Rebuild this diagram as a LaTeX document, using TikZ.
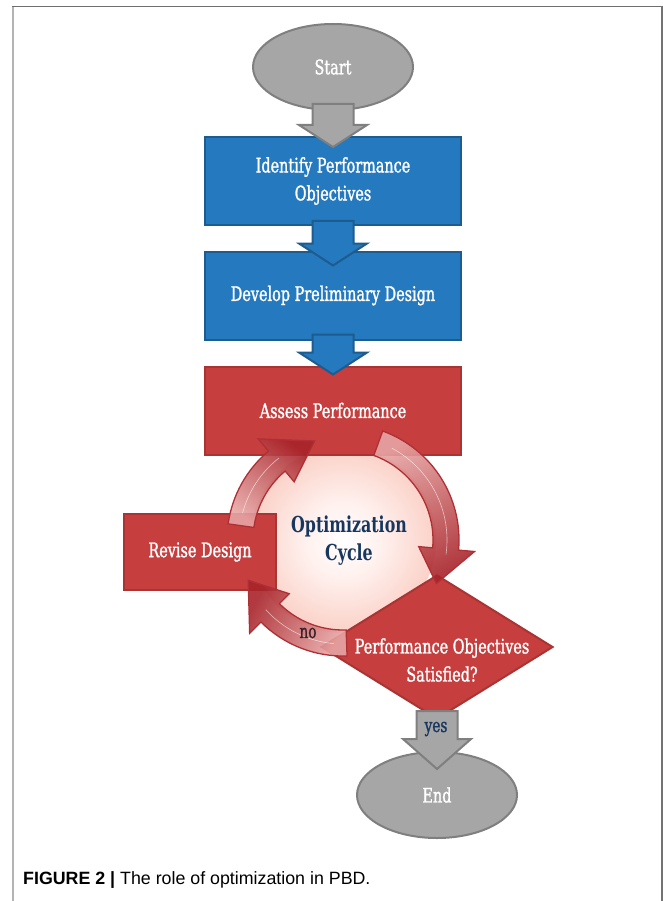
\documentclass[tikz,border=0pt]{standalone}
\usepackage{fontspec}
\usetikzlibrary{shapes.geometric,calc}
\newfontfamily\boxfont[FakeStretch=0.72,FakeBold=1.3]{DejaVu Serif}
\newfontfamily\cyclefont[FakeStretch=0.72]{DejaVu Serif}
\newfontfamily\capfont{Liberation Sans}

\definecolor{boxblue}{HTML}{2579BE}
\definecolor{blueedge}{HTML}{1D5C8E}
\definecolor{boxred}{HTML}{C73E3E}
\definecolor{rededge}{HTML}{A93434}
\definecolor{grayfill}{HTML}{A6A6A6}
\definecolor{grayedge}{HTML}{7F7F7F}
\definecolor{ringdark}{HTML}{A8242A}
\definecolor{ringlight}{HTML}{E7A5A4}
\definecolor{ringedge}{HTML}{AE3035}
\definecolor{glowpale}{HTML}{FFF1EE}
\definecolor{glowmid}{HTML}{F8C2B5}
\definecolor{glowedge}{HTML}{EC7A66}
\definecolor{navytext}{HTML}{17375E}
\definecolor{notext}{HTML}{3C2226}

\pgfdeclareradialshading{cycleglow}{\pgfpoint{0bp}{0bp}}{color(0bp)=(white); color(10bp)=(glowpale); color(32bp)=(glowmid); color(50bp)=(glowedge)}

\tikzset{boxtext/.style={text=white,align=center,font=\boxfont\fontsize{20}{28}\selectfont}}
\tikzset{startend/.style={ellipse,draw=grayedge,fill=grayfill,line width=2,minimum width=160,minimum height=86,inner sep=0,boxtext}}
\tikzset{bluebox/.style={rectangle,draw=blueedge,fill=boxblue,line width=2,minimum width=256,minimum height=88,boxtext}}
\tikzset{redbox/.style={rectangle,draw=rededge,fill=boxred,line width=2,minimum width=256,minimum height=88,boxtext}}
\tikzset{decision/.style={diamond,draw=rededge,fill=boxred,line width=2,minimum width=232,minimum height=144,inner sep=0}}
\tikzset{cyclecirc/.style={circle,shading=cycleglow,minimum size=186,inner sep=0}}
\tikzset{grayarrow/.style={draw=grayedge,fill=grayfill,line width=2,line join=miter}}
\tikzset{bluearrow/.style={draw=blueedge,fill=boxblue,line width=2,line join=miter}}
\tikzset{ringarrow/.style={draw=ringedge,line width=1.3,line join=miter,fill opacity=0.9}}

% block arrow: #1 style, #2 top of shaft, #3 tip, #4 head length
\newcommand{\blockarrow}[4]{%
  \draw[#1] ($#2+(-20.5,0)$) -- ($#2+(20.5,0)$) -- ($#3+(20.5,-#4)$) -- ($#3+(34,-#4)$)
    -- ($#3$) -- ($#3+(-34,-#4)$) -- ($#3+(-20.5,-#4)$) -- cycle;}

\begin{document}
\begin{tikzpicture}[x=1pt,y=-1pt]
\useasboundingbox (0,0) rectangle (663,901);

% frame
\draw[color={rgb,255:red,180;green,180;blue,180},line width=2] (13,901) -- (13,6.5);
\draw[color={rgb,255:red,110;green,110;blue,110},line width=1.5] (12,6.5) -- (662,6.5);
\draw[color={rgb,255:red,116;green,116;blue,116},line width=2] (662,5.8) -- (662,901);

% flow nodes
\node[startend] at (333,67) (start) {Start};
\node[bluebox] at (333,181) (ident) {Identify Performance\\Objectives};
\node[bluebox] at (333,295.5) (devel) {Develop Preliminary Design};
\node[cyclecirc] at (343,540) (cycle) {};
\node[redbox] at (333,410.5) (assess) {Assess Performance};
\node[redbox,minimum width=152,minimum height=76] at (200,552) (revise) {Revise Design};
\node[decision] at (437,647) (satisfied) {};
\node[boxtext] at ($(satisfied.center)+(5,13)$) (satisfiedtxt) {Performance Objectives\\Satisfied?};
\node[startend] at (437,795) (endn) {End};

% block arrows between the steps
\blockarrow{grayarrow}{(start.south)+(0,-7)}{(ident.north)+(0,11)}{22}
\blockarrow{bluearrow}{(ident.south)+(0,-5)}{(devel.north)+(0,15)}{22}
\blockarrow{bluearrow}{(devel.south)+(0,-6)}{(assess.north)+(0,9)}{22}
\blockarrow{grayarrow}{(satisfied.south)+(0,-9)}{(endn.north)+(0,18)}{30}

% optimization cycle ring
\begin{scope}[shift={(cycle.center)}]
% revise -> assess
\shadedraw[ringarrow,top color=ringdark,bottom color=ringlight,shading angle=-37]
  (-172:116) arc[start angle=-172,end angle=-130,radius=116] -- (-130:132) -- (-106:103)
  -- (-130:76) -- (-130:90) arc[start angle=-130,end angle=-172,radius=90] -- cycle;
% assess -> decision
\shadedraw[ringarrow,top color=ringdark,bottom color=ringlight,shading angle=-152]
  (-70:116) arc[start angle=-70,end angle=5,radius=116] -- (5:132) -- (25:103)
  -- (5:76) -- (5:90) arc[start angle=5,end angle=-70,radius=90] -- cycle;
% decision -> revise
\shadedraw[ringarrow,top color=ringdark,bottom color=ringlight,shading angle=61]
  (88:116) arc[start angle=88,end angle=135,radius=116] -- (135:132) -- (157:103)
  -- (135:76) -- (135:90) arc[start angle=135,end angle=88,radius=90] -- cycle;
% thin highlight along the ring
\draw[white,opacity=0.6,line width=0.6] (-165:104) arc[start angle=-165,end angle=-128,radius=104];
\draw[white,opacity=0.6,line width=0.6] (-62:104) arc[start angle=-62,end angle=8,radius=104];
\draw[white,opacity=0.6,line width=0.6] (95:104) arc[start angle=95,end angle=138,radius=104];
\end{scope}

% labels
\node[font=\cyclefont\bfseries\fontsize{22}{28}\selectfont,text=navytext,align=center] at ($(cycle.center)+(6,1)$) (cycletxt) {Optimization\\Cycle};
\node[font=\boxfont\fontsize{19}{24}\selectfont,text=notext] at (308,633) (nolabel) {no};
\node[font=\boxfont\fontsize{19}{24}\selectfont,text=navytext] at (436,729) (yeslabel) {yes};

% caption
\node[font=\capfont\fontsize{17.8}{21}\selectfont,anchor=base west,inner sep=0] at (23,884) (caption) {{\bfseries FIGURE 2 |} The role of optimization in PBD.};
\end{tikzpicture}
\end{document}
